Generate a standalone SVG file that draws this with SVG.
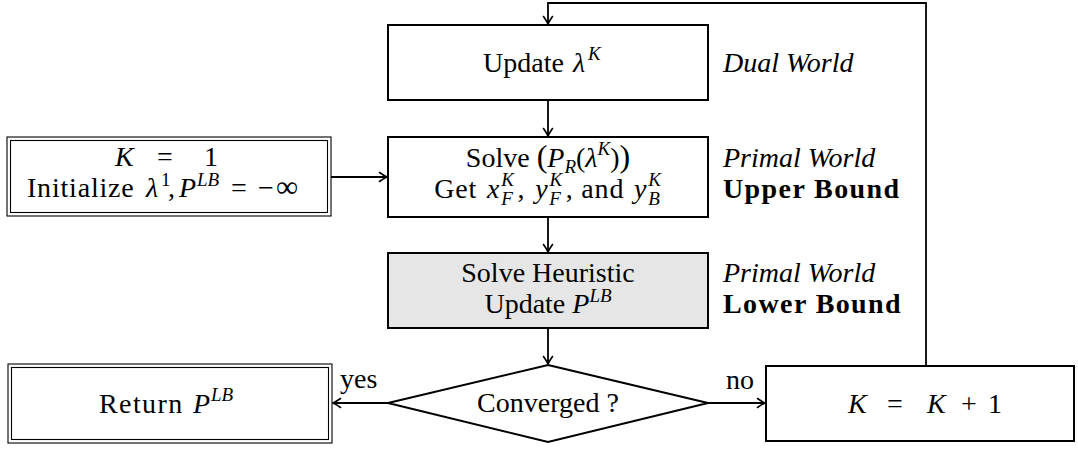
<svg xmlns="http://www.w3.org/2000/svg" width="1078" height="449" viewBox="0 0 1078 449" font-family="'Liberation Serif', 'DejaVu Serif', serif" font-size="28">
  <style>
    .c { text-anchor: middle; }
    .i { font-style: italic; }
    .b { font-weight: bold; letter-spacing: 1.4px; }
    .s { font-size: 19px; }
    .box { fill: #fff; stroke: #000; stroke-width: 2; }
    .grey { fill: #e6e6e6; }
    .dbl { fill: none; stroke: #000; stroke-width: 1.1; }
    .edge { fill: none; stroke: #000; stroke-width: 1.8; }
  </style>
  <defs>
    <marker id="arrow" viewBox="-9 -6 10 12" refX="0" refY="0" markerWidth="10" markerHeight="12" markerUnits="userSpaceOnUse" orient="auto">
      <path d="M -7.5 -4.5 Q -2.5 -1 0 0 Q -2.5 1 -7.5 4.5" fill="none" stroke="#000" stroke-width="1.6" stroke-linecap="round"/>
    </marker>
  </defs>

  <!-- connectors -->
  <g id="connectors">
    <path class="edge" d="M 548 100 L 548 136" marker-end="url(#arrow)"/>
    <path class="edge" d="M 331 177 L 387 177" marker-end="url(#arrow)"/>
    <path class="edge" d="M 548 217 L 548 252" marker-end="url(#arrow)"/>
    <path class="edge" d="M 548 328 L 548 364" marker-end="url(#arrow)"/>
    <path class="edge" d="M 388 403 L 333 403" marker-end="url(#arrow)"/>
    <path class="edge" d="M 708 403 L 765 403" marker-end="url(#arrow)"/>
    <path class="edge" d="M 926 366 L 926 3 L 548 3 L 548 24" marker-end="url(#arrow)"/>
    <text x="340" y="388">yes</text>
    <text x="726" y="389">no</text>
  </g>

  <!-- update multipliers -->
  <g id="update">
    <rect class="box" x="388" y="25" width="320" height="75"/>
    <text x="483" y="72">Update<tspan class="i" x="573">λ</tspan><tspan class="i s" x="588" dy="-12">K</tspan></text>
    <text class="i" x="723" y="72">Dual World</text>
  </g>

  <!-- initialization -->
  <g id="init">
    <rect class="dbl" x="7" y="137" width="324" height="79"/>
    <rect class="dbl" x="10.5" y="140.5" width="317" height="72"/>
    <text x="115" y="166"><tspan class="i">K</tspan><tspan x="157">=</tspan><tspan x="204">1</tspan></text>
    <text x="27" y="197"><tspan letter-spacing="0.8">Initialize</tspan><tspan class="i" x="146">λ</tspan><tspan class="s" x="161" dy="-11">1</tspan><tspan x="168" dy="11">,</tspan><tspan class="i" x="179">P</tspan><tspan class="i s" x="197" dy="-11">LB</tspan><tspan x="231" dy="11">=</tspan><tspan x="258">−</tspan><tspan x="276" font-size="31">∞</tspan></text>
  </g>

  <!-- relaxed problem -->
  <g id="solve">
    <rect class="box" x="388" y="137" width="320" height="80"/>
    <text class="c" x="548" y="167">Solve <tspan font-size="32">(</tspan><tspan class="i">P</tspan><tspan class="i s" dy="6">R</tspan><tspan dy="-6">(</tspan><tspan class="i">λ</tspan><tspan class="i s" dy="-12">K</tspan><tspan dy="12">)</tspan><tspan font-size="32">)</tspan></text>
    <text class="c" x="548" y="198" letter-spacing="0.8">Get <tspan class="i" dx="2">x</tspan><tspan class="i s" dx="1" dy="-12">K</tspan><tspan class="i s" dx="-13.5" dy="19">F</tspan><tspan dx="4" dy="-7">, </tspan><tspan class="i" dx="2">y</tspan><tspan class="i s" dx="1" dy="-12">K</tspan><tspan class="i s" dx="-13.5" dy="19">F</tspan><tspan dx="4" dy="-7">, and </tspan><tspan class="i" dx="2">y</tspan><tspan class="i s" dx="1" dy="-12">K</tspan><tspan class="i s" dx="-13.5" dy="19">B</tspan></text>
    <text class="i" x="723" y="167">Primal World</text>
    <text class="b" x="723" y="198">Upper Bound</text>
  </g>

  <!-- heuristic -->
  <g id="heuristic">
    <rect class="box grey" x="388" y="253" width="320" height="75"/>
    <text class="c" x="548" y="282">Solve Heuristic</text>
    <text class="c" x="548" y="313">Update <tspan class="i">P</tspan><tspan class="i s" dy="-11">LB</tspan></text>
    <text class="i" x="723" y="282">Primal World</text>
    <text class="b" x="723" y="313">Lower Bound</text>
  </g>

  <!-- convergence test -->
  <g id="converged">
    <polygon class="box" points="548,365 708,403 548,442 388,403"/>
    <text class="c" x="548" y="412">Converged ?</text>
  </g>

  <!-- result -->
  <g id="return">
    <rect class="dbl" x="8" y="364" width="324" height="79"/>
    <rect class="dbl" x="11.5" y="367.5" width="317" height="72"/>
    <text x="99" y="413"><tspan letter-spacing="1.4">Return</tspan><tspan class="i" x="193">P</tspan><tspan class="i s" x="211" dy="-12">LB</tspan></text>
  </g>

  <!-- iteration counter -->
  <g id="increment">
    <rect class="box" x="766" y="366" width="308" height="75"/>
    <text x="848" y="413"><tspan class="i">K</tspan><tspan x="887">=</tspan><tspan class="i" x="927">K</tspan><tspan x="961">+</tspan><tspan x="988">1</tspan></text>
  </g>
</svg>
